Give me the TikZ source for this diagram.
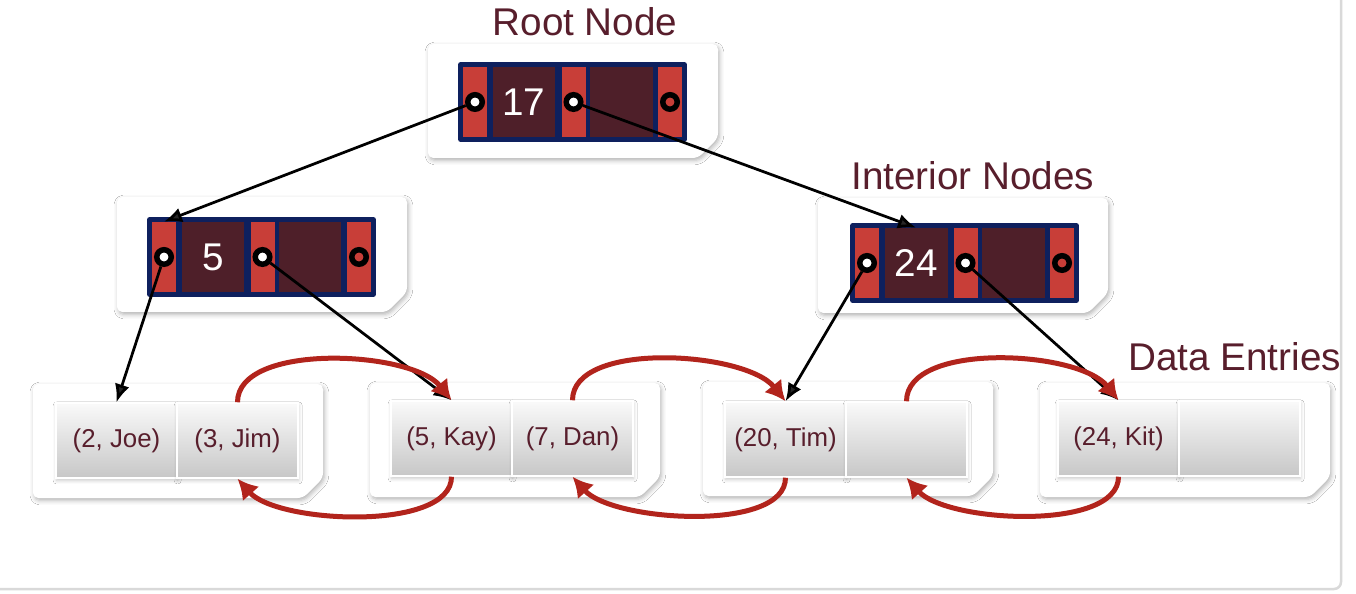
\documentclass[tikz,border=0pt]{standalone}
\usepackage{fontspec}
\setmainfont{Liberation Sans}
\usetikzlibrary{arrows.meta, shadows, shadows.blur}
\definecolor{navy}{RGB}{14,32,94}
\definecolor{cellred}{RGB}{200,62,56}
\definecolor{keydark}{RGB}{78,31,41}
\definecolor{datared}{RGB}{88,30,44}
\definecolor{sibred}{RGB}{178,36,28}

\begin{document}
\begin{tikzpicture}[x=0.02cm, y=-0.02cm,
  card/.style={fill=white, rounded corners=3pt, blur shadow={shadow xshift=0.8pt, shadow yshift=-1.4pt, shadow blur radius=2.5pt, shadow opacity=30}},
  inbox/.style={fill=navy, rounded corners=1.5pt, minimum width=4.58cm, minimum height=1.6cm, inner sep=0},
  ptrcell/.style={fill=cellred, minimum width=0.48cm, minimum height=1.4cm, inner sep=0},
  keycell/.style={fill=keydark, minimum width=1.26cm, minimum height=1.4cm, inner sep=0, text=white, font=\fontsize{22}{26}\selectfont},
  hole/.style={circle, draw=black, line width=0.11cm, fill=white, minimum size=0.29cm, inner sep=0},
  entry/.style={draw=white, line width=0.03cm, top color=black!2, bottom color=black!22, minimum width=2.42cm, minimum height=1.5cm, inner sep=0, text=datared, font=\fontsize{14.7}{17}\selectfont, blur shadow={shadow xshift=0.4pt, shadow yshift=-1.4pt, shadow blur radius=2pt, shadow opacity=22}},
  title/.style={text=datared, font=\fontsize{22}{26}\selectfont, inner sep=0},
  ptr/.style={-{Latex[length=0.36cm, width=0.3cm]}, line width=0.055cm},
  sib/.style={-{Latex[length=0.4cm, width=0.44cm]}, line width=0.1cm, sibred}]

\useasboundingbox[fill=white] (0,0) rectangle (1356,594);
\draw[black!15, line width=0.05cm, rounded corners=4pt] (0,589) -- (1341,589) -- (1341,0);

\path[card] (428,44) -- ++(290,0) -- ++(0,94) -- ++(-20,20) -- ++(-270,0) -- cycle;
\path[card] (117,197) -- ++(290,0) -- ++(0,95) -- ++(-20,20) -- ++(-270,0) -- cycle;
\path[card] (818,198) -- ++(290,0) -- ++(0,95) -- ++(-20,20) -- ++(-270,0) -- cycle;
\path[card] (33,384) -- ++(290,0) -- ++(0,94) -- ++(-20,20) -- ++(-270,0) -- cycle;
\path[card] (370,383) -- ++(290,0) -- ++(0,94) -- ++(-20,20) -- ++(-270,0) -- cycle;
\path[card] (703,382) -- ++(290,0) -- ++(0,94) -- ++(-20,20) -- ++(-270,0) -- cycle;
\path[card] (1040,383) -- ++(290,0) -- ++(0,94) -- ++(-20,20) -- ++(-270,0) -- cycle;

\node[title] (rootlbl) at (585,22) {Root Node};
\node[title, anchor=west] (intlbl) at (851,176) {Interior Nodes};
\node[title, anchor=west] (datalbl) at (1128,357) {Data Entries};

\node[inbox] (root) at (572.5,102) {};
\node[ptrcell] (rr1) at (475,102) {};
\node[keycell] (rk1) at (524,102) {17};
\node[ptrcell] (rr2) at (573.5,102) {};
\node[keycell] (rk2) at (621,102) {};
\node[ptrcell] (rr3) at (670,102) {};
\node[hole] (rp1) at (rr1) {};
\node[hole] (rp2) at (rr2) {};
\node[hole, fill=cellred] (rp3) at (rr3) {};

\node[inbox] (left) at (261.5,257) {};
\node[ptrcell] (lr1) at (164,257) {};
\node[keycell] (lk1) at (213,257) {5};
\node[ptrcell] (lr2) at (262.5,257) {};
\node[keycell] (lk2) at (310,257) {};
\node[ptrcell] (lr3) at (359,257) {};
\node[hole] (lp1) at (lr1) {};
\node[hole] (lp2) at (lr2) {};
\node[hole, fill=cellred] (lp3) at (lr3) {};

\node[inbox] (right) at (964.5,263) {};
\node[ptrcell] (ir1) at (867,263) {};
\node[keycell] (ik1) at (916,263) {24};
\node[ptrcell] (ir2) at (965.5,263) {};
\node[keycell] (ik2) at (1013,263) {};
\node[ptrcell] (ir3) at (1062,263) {};
\node[hole] (ip1) at (ir1) {};
\node[hole] (ip2) at (ir2) {};
\node[hole, fill=cellred] (ip3) at (ir3) {};

\node[entry] (e11) at (116.5,440.5) {(2, Joe)};
\node[entry] (e12) at (237.5,440.5) {(3, Jim)};
\node[entry] (e21) at (451.5,438.5) {(5, Kay)};
\node[entry] (e22) at (572.5,438.5) {(7, Dan)};
\node[entry] (e31) at (785.5,439.5) {(20, Tim)};
\node[entry] (e32) at (906.5,439.5) {};
\node[entry] (e41) at (1118.5,438.5) {(24, Kit)};
\node[entry] (e42) at (1239.5,438.5) {};

\draw[ptr] (rp1) -- (lr1.north);
\draw[ptr] (rp2) -- (ik1.north);
\draw[ptr] (lp1) -- (e11.north);
\draw[ptr] (lp2) -- (e21.north);
\draw[ptr] (ip1) -- (e31.north);
\draw[ptr] (ip2) -- (e41.north);

\draw[sib] (e12.north) .. controls +(0,-60) and +(-40,-50) .. (e21.north);
\draw[sib] (e22.north) .. controls +(0,-60) and +(-40,-50) .. (e31.north);
\draw[sib] (e32.north) .. controls +(0,-60) and +(-40,-50) .. (e41.north);
\draw[sib] (e21.south) .. controls +(0,55) and +(40,45) .. (e12.south);
\draw[sib] (e31.south) .. controls +(0,55) and +(40,45) .. (e22.south);
\draw[sib] (e41.south) .. controls +(0,55) and +(40,45) .. (e32.south);
\end{tikzpicture}
\end{document}
